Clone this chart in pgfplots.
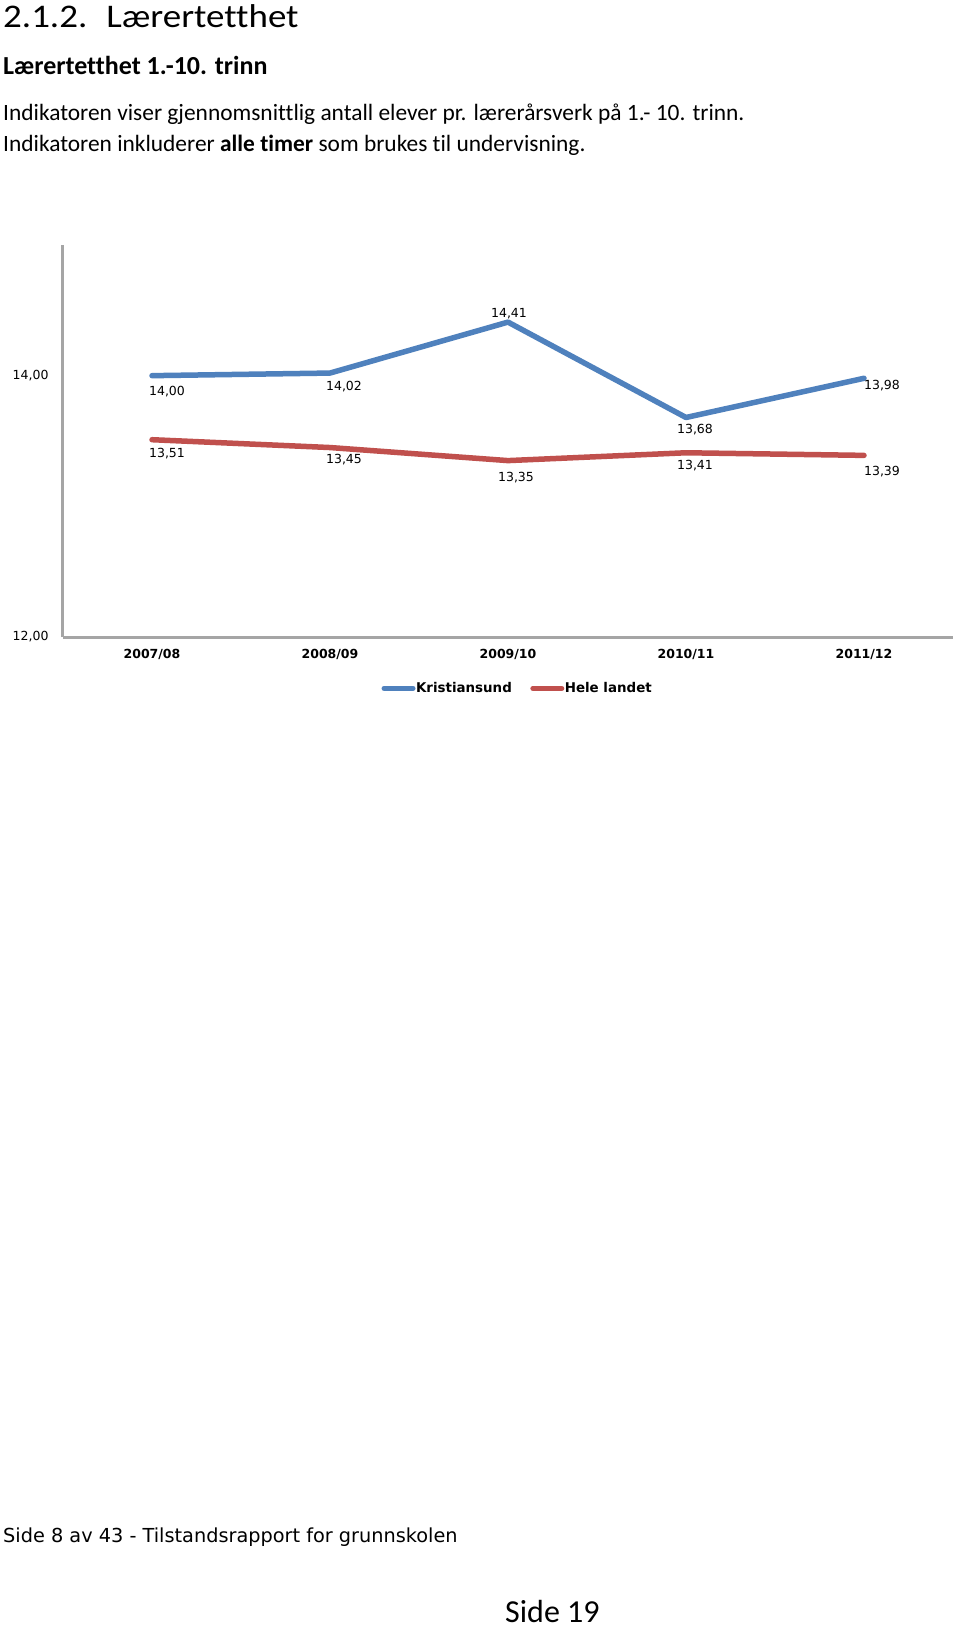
\documentclass[border=0pt]{standalone}
\usepackage{fontspec}
\setmainfont{Carlito}[Ligatures={TeX,NoCommon}]
\newfontfamily\titlefont{Carlito}[Ligatures={TeX,NoCommon}, FakeStretch=1.12]
\newfontfamily\dejavu{DejaVu Sans}
\usepackage{pgfplots}
\pgfplotsset{compat=1.18}
\definecolor{kblue}{RGB}{79,129,189}
\definecolor{hred}{RGB}{192,80,77}
\definecolor{axgray}{RGB}{165,165,165}
\newcommand{\lblfont}{\dejavu\fontsize{12.5}{14}\selectfont}
\begin{document}
\begin{tikzpicture}[x=1pt,y=1pt]
\fill[white] (0,0) rectangle (960,-1627);
\node[anchor=base west, inner sep=0, font=\titlefont\fontsize{33}{38}\selectfont] at (3,-28) {2.1.2.\hspace{19pt}Lærertetthet};
\node[anchor=base west, inner sep=0, font=\fontsize{26}{30}\selectfont\bfseries] at (3,-75) {Lærertetthet 1.-10. trinn};
\node[anchor=base west, inner sep=0, font=\fontsize{23.4}{28}\selectfont] at (3,-121) {Indikatoren viser gjennomsnittlig antall elever pr. lærerårsverk på 1.- 10. trinn.};
\node[anchor=base west, inner sep=0, font=\fontsize{23.4}{28}\selectfont] at (3,-151) {Indikatoren inkluderer \textbf{alle timer} som brukes til undervisning.};
\node[anchor=base west, inner sep=0, font=\dejavu\fontsize{19.3}{23}\selectfont] at (3,-1542) {Side 8 av 43 - Tilstandsrapport for grunnskolen};
\node[anchor=base west, inner sep=0, font=\fontsize{32}{36}\selectfont] at (505,-1622) {Side 19};
\begin{axis}[
  at={(63pt,-637pt)}, anchor=south west,
  scale only axis, width=890pt, height=392pt,
  xmin=-0.5, xmax=4.5, ymin=12, ymax=15,
  axis x line=bottom, axis y line=left,
  axis line style={-, line width=3pt, axgray},
  xtick={0,1,2,3,4},
  xticklabels={2007/08,2008/09,2009/10,2010/11,2011/12},
  ytick={12,14}, yticklabels={{12,00},{14,00}},
  major tick length=0pt,
  yticklabel style={font=\lblfont, xshift=-11pt},
  xticklabel style={font=\dejavu\bfseries\fontsize{12.5}{14}\selectfont, yshift=-9pt},
  clip=false,
  legend columns=2,
  legend style={draw=none, at={(0.51,-0.131)}, anchor=center,
    font=\dejavu\bfseries\fontsize{13.4}{15}\selectfont,
    nodes={inner sep=0.5pt},
    /tikz/every even column/.append style={column sep=18pt}},
  legend image code/.code={\draw[#1, line width=5pt] (0pt,0pt) -- (29pt,0pt);},
]
\addplot[kblue, line width=5.5pt, line join=round, line cap=round] coordinates {(0,14.00) (1,14.02) (2,14.41) (3,13.68) (4,13.98)};
\addlegendentry{Kristiansund}
\addplot[hred, line width=5.5pt, line join=round, line cap=round] coordinates {(0,13.51) (1,13.45) (2,13.35) (3,13.41) (4,13.39)};
\addlegendentry{Hele landet}
\begin{scope}[every node/.style={font=\lblfont, inner sep=0}]
\node[xshift=15pt, yshift=-16pt] at (axis cs:0,14.00) {14,00};
\node[xshift=14pt, yshift=-14pt] at (axis cs:1,14.02) {14,02};
\node[xshift=1pt, yshift=8pt] at (axis cs:2,14.41) {14,41};
\node[xshift=9pt, yshift=-12pt] at (axis cs:3,13.68) {13,68};
\node[xshift=18pt, yshift=-7pt] at (axis cs:4,13.98) {13,98};
\node[xshift=15pt, yshift=-14pt] at (axis cs:0,13.51) {13,51};
\node[xshift=14pt, yshift=-12pt] at (axis cs:1,13.45) {13,45};
\node[xshift=8pt, yshift=-17pt] at (axis cs:2,13.35) {13,35};
\node[xshift=9pt, yshift=-13pt] at (axis cs:3,13.41) {13,41};
\node[xshift=18pt, yshift=-16pt] at (axis cs:4,13.39) {13,39};
\end{scope}
\end{axis}
\end{tikzpicture}
\end{document}
